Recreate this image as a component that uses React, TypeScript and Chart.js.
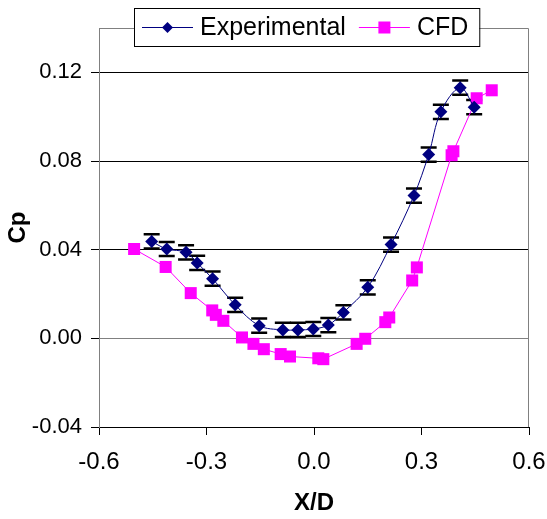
import React, { useEffect, useRef } from 'react';
import { Chart, registerables } from 'chart.js';

Chart.register(...registerables);

const seriesNames = ['Experimental', 'CFD'];
const xTitle = 'X/D';
const yTitle = 'Cp';

const expX = [-0.453, -0.411, -0.357, -0.326, -0.283, -0.22, -0.153, -0.087, -0.045, -0.002, 0.04, 0.082, 0.15, 0.215, 0.279, 0.32, 0.354, 0.408, 0.447];
const expY = [0.0437, 0.0403, 0.0388, 0.034, 0.0269, 0.0151, 0.0057, 0.0038, 0.0038, 0.0042, 0.006, 0.0117, 0.023, 0.0423, 0.0644, 0.0829, 0.1022, 0.1131, 0.1043];
const expErr = [0.0032, 0.0032, 0.0032, 0.0032, 0.0032, 0.0032, 0.0032, 0.0032, 0.0032, 0.0032, 0.0032, 0.0032, 0.0032, 0.0032, 0.0032, 0.0032, 0.0032, 0.0032, 0.0032];

const cfdX = [-0.502, -0.414, -0.344, -0.284, -0.274, -0.253, -0.201, -0.169, -0.14, -0.093, -0.067, 0.012, 0.026, 0.119, 0.143, 0.199, 0.21, 0.274, 0.287, 0.384, 0.389, 0.454, 0.496];
const cfdY = [0.0403, 0.0322, 0.0204, 0.0126, 0.0106, 0.0079, 0.0004, -0.0025, -0.0049, -0.0071, -0.0082, -0.009, -0.0094, -0.0025, -0.0002, 0.0073, 0.0094, 0.0261, 0.032, 0.0826, 0.0844, 0.1083, 0.1119];

const xTicks = [-0.6, -0.3, 0.0, 0.3, 0.6];
const yTicks = [-0.04, 0.0, 0.04, 0.08, 0.12];

const FONT = '"Liberation Sans", Arial, Helvetica, sans-serif';
const NAVY = '#000080';
const MAGENTA = '#FF00FF';

const errorBars = {
  id: 'errorBars',
  beforeDatasetsDraw(chart: any) {
    const { ctx } = chart;
    const xs = chart.scales.x;
    const ys = chart.scales.y;
    ctx.save();
    ctx.strokeStyle = '#000';
    for (let i = 0; i < expX.length; i++) {
      const x = xs.getPixelForValue(expX[i]);
      const yHi = ys.getPixelForValue(expY[i] + expErr[i]);
      const yLo = ys.getPixelForValue(expY[i] - expErr[i]);
      ctx.lineWidth = 1;
      ctx.beginPath();
      ctx.moveTo(x, yHi);
      ctx.lineTo(x, yLo);
      ctx.stroke();
      ctx.lineWidth = 2.5;
      ctx.beginPath();
      ctx.moveTo(x - 8, yHi);
      ctx.lineTo(x + 8, yHi);
      ctx.moveTo(x - 8, yLo);
      ctx.lineTo(x + 8, yLo);
      ctx.stroke();
    }
    ctx.restore();
  },
};

const frame = {
  id: 'frame',
  beforeDatasetsDraw(chart: any) {
    const { ctx, chartArea } = chart;
    ctx.save();
    ctx.strokeStyle = '#808080';
    ctx.lineWidth = 1;
    const t = Math.round(chartArea.top) + 0.5;
    const r = Math.round(chartArea.right) - 0.5;
    ctx.beginPath();
    ctx.moveTo(chartArea.left, t);
    ctx.lineTo(r, t);
    ctx.lineTo(r, chartArea.bottom);
    ctx.stroke();
    ctx.restore();
  },
};

const legendBox = {
  id: 'legendBox',
  afterDraw(chart: any) {
    const { ctx, chartArea } = chart;
    ctx.save();
    ctx.font = `25px ${FONT}`;
    const w1 = ctx.measureText(seriesNames[0]).width;
    const w2 = ctx.measureText(seriesNames[1]).width;
    const padL = 8, lineW = 51, gap = 7, between = 13, padR = 11;
    const total = padL + lineW + gap + w1 + between + lineW + gap + w2 + padR;
    const left = Math.round(chartArea.left + 35);
    const top = 8;
    const h = 38;
    ctx.fillStyle = '#fff';
    ctx.fillRect(left, top, total, h);
    ctx.strokeStyle = '#000';
    ctx.lineWidth = 1;
    ctx.strokeRect(left + 0.5, top + 0.5, total, h);
    const cy = top + h / 2 + 0.5;
    let x = left + padL;
    ctx.strokeStyle = NAVY;
    ctx.beginPath();
    ctx.moveTo(x, cy);
    ctx.lineTo(x + lineW, cy);
    ctx.stroke();
    const mx1 = x + lineW / 2;
    ctx.fillStyle = NAVY;
    ctx.beginPath();
    ctx.moveTo(mx1 - 5.5, cy);
    ctx.lineTo(mx1, cy - 5.5);
    ctx.lineTo(mx1 + 5.5, cy);
    ctx.lineTo(mx1, cy + 5.5);
    ctx.closePath();
    ctx.fill();
    x += lineW + gap;
    ctx.fillStyle = '#000';
    ctx.textBaseline = 'middle';
    ctx.textAlign = 'left';
    ctx.fillText(seriesNames[0], x, cy + 1);
    x += w1 + between;
    ctx.strokeStyle = MAGENTA;
    ctx.beginPath();
    ctx.moveTo(x, cy);
    ctx.lineTo(x + lineW, cy);
    ctx.stroke();
    const mx2 = x + lineW / 2;
    ctx.fillStyle = MAGENTA;
    ctx.fillRect(mx2 - 6, cy - 6, 12, 12);
    x += lineW + gap;
    ctx.fillStyle = '#000';
    ctx.fillText(seriesNames[1], x, cy + 1);
    ctx.restore();
  },
};

export default function App() {
  const ref = useRef<HTMLCanvasElement | null>(null);

  useEffect(() => {
    if (!ref.current) return;
    Chart.defaults.font.family = FONT;
    const chart = new Chart(ref.current, {
      type: 'scatter',
      data: {
        datasets: [
          {
            label: seriesNames[0],
            data: expX.map((x, i) => ({ x, y: expY[i] })),
            showLine: true,
            borderColor: NAVY,
            backgroundColor: NAVY,
            borderWidth: 1,
            tension: 0.35,
            pointStyle: 'rectRot',
            pointRadius: 6.5,
            pointBorderWidth: 0,
          },
          {
            label: seriesNames[1],
            data: cfdX.map((x, i) => ({ x, y: cfdY[i] })),
            showLine: true,
            borderColor: MAGENTA,
            backgroundColor: MAGENTA,
            borderWidth: 1,
            tension: 0,
            pointStyle: 'rect',
            pointRadius: 8.5,
            pointBorderWidth: 0,
          },
        ],
      },
      options: {
        responsive: false,
        animation: false,
        devicePixelRatio: 1,
        layout: { padding: { top: 28, right: 18, left: 0, bottom: 0 } },
        plugins: {
          legend: { display: false },
          tooltip: { enabled: false },
        },
        scales: {
          x: {
            type: 'linear',
            min: -0.6,
            max: 0.6,
            afterBuildTicks: (scale: any) => {
              scale.ticks = xTicks.map((v) => ({ value: v }));
            },
            afterFit: (scale: any) => {
              scale.height = 92;
              scale.paddingLeft = 0;
              scale.paddingRight = 0;
            },
            ticks: {
              callback: (v: any) => Number(v).toFixed(1),
              color: '#000',
              font: { size: 24 },
              padding: 13,
              maxRotation: 0,
            },
            grid: {
              drawOnChartArea: false,
              color: '#000',
              tickColor: '#000',
              tickLength: 8,
            },
            border: { color: '#000', width: 1 },
            title: {
              display: true,
              text: xTitle,
              color: '#000',
              font: { size: 24, weight: 'bold' },
              padding: { top: 0, bottom: 1 },
            },
          },
          y: {
            type: 'linear',
            min: -0.04,
            max: 0.14,
            afterBuildTicks: (scale: any) => {
              scale.ticks = yTicks.map((v) => ({ value: v }));
            },
            afterFit: (scale: any) => {
              scale.width = 99;
              scale.paddingTop = 0;
              scale.paddingBottom = 0;
            },
            ticks: {
              callback: (v: any) => Number(v).toFixed(2),
              color: '#000',
              font: { size: 22 },
              padding: 9,
            },
            grid: {
              color: (c: any) => (Math.abs(c.tick?.value ?? 1) < 1e-9 ? '#808080' : '#000'),
              tickColor: '#000',
              tickLength: 8,
            },
            border: { color: '#808080', width: 1 },
            title: {
              display: true,
              text: yTitle,
              color: '#000',
              font: { size: 24, weight: 'bold' },
              padding: { top: 4, bottom: 0 },
            },
          },
        },
      },
      plugins: [frame, errorBars, legendBox],
    } as any);
    return () => chart.destroy();
  }, []);

  return (
    <div style={{ position: 'fixed', left: 0, top: 0, width: 547, height: 519, background: '#fff' }}>
      <canvas ref={ref} width={547} height={519} style={{ display: 'block' }} />
    </div>
  );
}
